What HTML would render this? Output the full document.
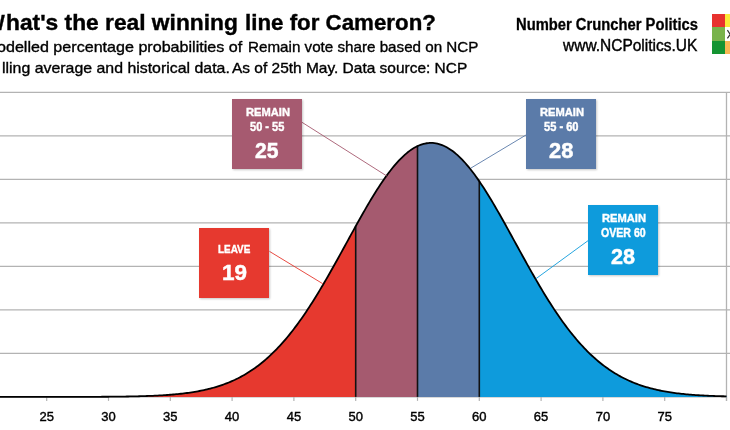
<!DOCTYPE html>
<html><head><meta charset="utf-8">
<style>
*{margin:0;padding:0;box-sizing:border-box}
html,body{width:730px;height:430px;overflow:hidden;background:#fff}
body{position:relative;font-family:"Liberation Sans",sans-serif;color:#111}
#wrap{position:absolute;left:0;top:0;width:730px;height:430px;filter:blur(0.4px)}
.t{position:absolute;white-space:nowrap;transform-origin:0 0}
.xl{position:absolute;top:410px;font-size:13px;line-height:13px;width:40px;margin-left:-20px;text-align:center;color:#000;-webkit-text-stroke:0.4px #000}
.box{position:absolute;width:70.3px;height:70.3px;box-shadow:1px 1px 2px rgba(0,0,0,0.22)}
</style></head><body><div id="wrap">
<svg width="730" height="430" style="position:absolute;left:0;top:0"><line x1="0" y1="92.30" x2="730" y2="92.30" stroke="#b3b3b3" stroke-width="1.3"/><line x1="0" y1="135.81" x2="730" y2="135.81" stroke="#b3b3b3" stroke-width="1.3"/><line x1="0" y1="179.33" x2="730" y2="179.33" stroke="#b3b3b3" stroke-width="1.3"/><line x1="0" y1="222.84" x2="730" y2="222.84" stroke="#b3b3b3" stroke-width="1.3"/><line x1="0" y1="266.36" x2="730" y2="266.36" stroke="#b3b3b3" stroke-width="1.3"/><line x1="0" y1="309.87" x2="730" y2="309.87" stroke="#b3b3b3" stroke-width="1.3"/><line x1="0" y1="353.39" x2="730" y2="353.39" stroke="#b3b3b3" stroke-width="1.3"/><line x1="726.5" y1="92.3" x2="726.5" y2="401" stroke="#b3b3b3" stroke-width="1.3"/><line x1="0" y1="396.90" x2="726.5" y2="396.90" stroke="#b3b3b3" stroke-width="1.3"/><line x1="46.70" y1="396.90" x2="46.70" y2="400.90" stroke="#b3b3b3" stroke-width="1.2"/><line x1="108.50" y1="396.90" x2="108.50" y2="400.90" stroke="#b3b3b3" stroke-width="1.2"/><line x1="170.30" y1="396.90" x2="170.30" y2="400.90" stroke="#b3b3b3" stroke-width="1.2"/><line x1="232.10" y1="396.90" x2="232.10" y2="400.90" stroke="#b3b3b3" stroke-width="1.2"/><line x1="293.90" y1="396.90" x2="293.90" y2="400.90" stroke="#b3b3b3" stroke-width="1.2"/><line x1="355.70" y1="396.90" x2="355.70" y2="400.90" stroke="#b3b3b3" stroke-width="1.2"/><line x1="417.50" y1="396.90" x2="417.50" y2="400.90" stroke="#b3b3b3" stroke-width="1.2"/><line x1="479.30" y1="396.90" x2="479.30" y2="400.90" stroke="#b3b3b3" stroke-width="1.2"/><line x1="541.10" y1="396.90" x2="541.10" y2="400.90" stroke="#b3b3b3" stroke-width="1.2"/><line x1="602.90" y1="396.90" x2="602.90" y2="400.90" stroke="#b3b3b3" stroke-width="1.2"/><line x1="664.70" y1="396.90" x2="664.70" y2="400.90" stroke="#b3b3b3" stroke-width="1.2"/><line x1="726.50" y1="396.90" x2="726.50" y2="400.90" stroke="#b3b3b3" stroke-width="1.2"/><path d="M-12.36,396.90 L-12.36,396.90 L-10.81,396.90 L-9.27,396.90 L-7.72,396.90 L-6.17,396.90 L-4.63,396.90 L-3.08,396.90 L-1.53,396.90 L0.01,396.90 L1.56,396.90 L3.10,396.90 L4.65,396.90 L6.20,396.90 L7.74,396.90 L9.29,396.90 L10.84,396.90 L12.38,396.90 L13.93,396.90 L15.48,396.90 L17.02,396.90 L18.57,396.90 L20.12,396.90 L21.66,396.90 L23.21,396.90 L24.76,396.90 L26.30,396.90 L27.85,396.90 L29.39,396.90 L30.94,396.90 L32.49,396.90 L34.03,396.90 L35.58,396.90 L37.13,396.90 L38.67,396.89 L40.22,396.89 L41.77,396.89 L43.31,396.89 L44.86,396.89 L46.41,396.89 L47.95,396.89 L49.50,396.89 L51.05,396.89 L52.59,396.89 L54.14,396.89 L55.68,396.89 L57.23,396.89 L58.78,396.88 L60.32,396.88 L61.87,396.88 L63.42,396.88 L64.96,396.88 L66.51,396.88 L68.06,396.88 L69.60,396.87 L71.15,396.87 L72.70,396.87 L74.24,396.87 L75.79,396.86 L77.34,396.86 L78.88,396.86 L80.43,396.85 L81.97,396.85 L83.52,396.85 L85.07,396.84 L86.61,396.84 L88.16,396.83 L89.71,396.83 L91.25,396.82 L92.80,396.82 L94.35,396.81 L95.89,396.80 L97.44,396.80 L98.99,396.79 L100.53,396.78 L102.08,396.77 L103.63,396.76 L105.17,396.75 L106.72,396.74 L108.26,396.73 L109.81,396.72 L111.36,396.70 L112.90,396.69 L114.45,396.68 L116.00,396.66 L117.54,396.64 L119.09,396.62 L120.64,396.60 L122.18,396.58 L123.73,396.56 L125.28,396.54 L126.82,396.51 L128.37,396.49 L129.92,396.46 L131.46,396.43 L133.01,396.40 L134.55,396.37 L136.10,396.33 L137.65,396.29 L139.19,396.25 L140.74,396.21 L142.29,396.17 L143.83,396.12 L145.38,396.07 L146.93,396.02 L148.47,395.96 L150.02,395.90 L151.57,395.84 L153.11,395.77 L154.66,395.70 L156.21,395.63 L157.75,395.55 L159.30,395.47 L160.84,395.38 L162.39,395.29 L163.94,395.19 L165.48,395.09 L167.03,394.99 L168.58,394.87 L170.12,394.75 L171.67,394.63 L173.22,394.50 L174.76,394.36 L176.31,394.22 L177.86,394.06 L179.40,393.90 L180.95,393.74 L182.50,393.56 L184.04,393.38 L185.59,393.18 L187.13,392.98 L188.68,392.77 L190.23,392.55 L191.77,392.31 L193.32,392.07 L194.87,391.82 L196.41,391.55 L197.96,391.27 L199.51,390.98 L201.05,390.68 L202.60,390.36 L204.15,390.03 L205.69,389.68 L207.24,389.32 L208.79,388.95 L210.33,388.55 L211.88,388.15 L213.42,387.72 L214.97,387.28 L216.52,386.82 L218.06,386.34 L219.61,385.84 L221.16,385.33 L222.70,384.79 L224.25,384.23 L225.80,383.65 L227.34,383.05 L228.89,382.43 L230.44,381.78 L231.98,381.11 L233.53,380.42 L235.08,379.70 L236.62,378.96 L238.17,378.19 L239.71,377.39 L241.26,376.57 L242.81,375.72 L244.35,374.84 L245.90,373.93 L247.45,372.99 L248.99,372.02 L250.54,371.03 L252.09,370.00 L253.63,368.94 L255.18,367.85 L256.73,366.72 L258.27,365.56 L259.82,364.37 L261.37,363.15 L262.91,361.89 L264.46,360.59 L266.00,359.26 L267.55,357.90 L269.10,356.50 L270.64,355.06 L272.19,353.59 L273.74,352.08 L275.28,350.53 L276.83,348.94 L278.38,347.32 L279.92,345.66 L281.47,343.96 L283.02,342.22 L284.56,340.45 L286.11,338.64 L287.66,336.79 L289.20,334.90 L290.75,332.97 L292.29,331.01 L293.84,329.00 L295.39,326.97 L296.93,324.89 L298.48,322.78 L300.03,320.63 L301.57,318.44 L303.12,316.22 L304.67,313.97 L306.21,311.68 L307.76,309.35 L309.31,306.99 L310.85,304.60 L312.40,302.18 L313.95,299.73 L315.49,297.25 L317.04,294.74 L318.58,292.20 L320.13,289.63 L321.68,287.04 L323.22,284.42 L324.77,281.78 L326.32,279.11 L327.86,276.43 L329.41,273.72 L330.96,271.00 L332.50,268.26 L334.05,265.50 L335.60,262.73 L337.14,259.95 L338.69,257.15 L340.24,254.35 L341.78,251.54 L343.33,248.72 L344.87,245.90 L346.42,243.08 L347.97,240.26 L349.51,237.44 L351.06,234.62 L352.61,231.81 L354.15,229.01 L355.70,226.22 L355.70,396.90 Z" fill="#e6392f"/><path d="M355.70,396.90 L355.70,226.22 L357.25,223.44 L358.79,220.67 L360.33,217.92 L361.88,215.19 L363.43,212.48 L364.97,209.79 L366.51,207.13 L368.06,204.49 L369.61,201.88 L371.15,199.30 L372.69,196.75 L374.24,194.24 L375.78,191.77 L377.33,189.33 L378.88,186.94 L380.42,184.59 L381.96,182.29 L383.51,180.03 L385.06,177.83 L386.60,175.67 L388.14,173.57 L389.69,171.53 L391.24,169.54 L392.78,167.61 L394.32,165.74 L395.87,163.94 L397.41,162.20 L398.96,160.52 L400.50,158.92 L402.05,157.38 L403.59,155.91 L405.14,154.52 L406.69,153.20 L408.23,151.95 L409.77,150.78 L411.32,149.69 L412.87,148.68 L414.41,147.74 L415.95,146.89 L417.50,146.11 L417.50,396.90 Z" fill="#a55a6f"/><path d="M417.50,396.90 L417.50,146.11 L419.05,145.42 L420.59,144.81 L422.13,144.29 L423.68,143.85 L425.23,143.49 L426.77,143.21 L428.31,143.03 L429.86,142.92 L431.40,142.90 L432.95,142.97 L434.50,143.12 L436.04,143.36 L437.58,143.68 L439.13,144.08 L440.68,144.57 L442.22,145.14 L443.76,145.80 L445.31,146.54 L446.86,147.36 L448.40,148.26 L449.94,149.23 L451.49,150.29 L453.03,151.43 L454.58,152.64 L456.12,153.93 L457.67,155.29 L459.22,156.72 L460.76,158.23 L462.31,159.81 L463.85,161.45 L465.39,163.16 L466.94,164.94 L468.49,166.78 L470.03,168.68 L471.57,170.64 L473.12,172.66 L474.67,174.74 L476.21,176.87 L477.75,179.06 L479.30,181.29 L479.30,396.90 Z" fill="#5b7ba9"/><path d="M479.30,396.90 L479.30,181.29 L480.85,183.57 L482.39,185.90 L483.94,188.28 L485.48,190.69 L487.02,193.15 L488.57,195.64 L490.12,198.17 L491.66,200.74 L493.21,203.34 L494.75,205.96 L496.30,208.61 L497.84,211.29 L499.38,214.00 L500.93,216.72 L502.48,219.46 L504.02,222.22 L505.56,224.99 L507.11,227.78 L508.65,230.57 L510.20,233.38 L511.75,236.19 L513.29,239.01 L514.84,241.83 L516.38,244.65 L517.92,247.46 L519.47,250.28 L521.01,253.09 L522.56,255.89 L524.11,258.69 L525.65,261.47 L527.19,264.25 L528.74,267.01 L530.28,269.75 L531.83,272.48 L533.38,275.19 L534.92,277.89 L536.47,280.56 L538.01,283.21 L539.56,285.83 L541.10,288.44 L542.64,291.01 L544.19,293.56 L545.74,296.08 L547.28,298.58 L548.83,301.04 L550.37,303.48 L551.91,305.88 L553.46,308.25 L555.00,310.59 L556.55,312.89 L558.10,315.16 L559.64,317.40 L561.18,319.60 L562.73,321.76 L564.27,323.89 L565.82,325.98 L567.37,328.04 L568.91,330.05 L570.46,332.03 L572.00,333.98 L573.55,335.88 L575.09,337.75 L576.63,339.58 L578.18,341.37 L579.73,343.12 L581.27,344.84 L582.82,346.51 L584.36,348.15 L585.90,349.76 L587.45,351.32 L589.00,352.85 L590.54,354.34 L592.09,355.79 L593.63,357.21 L595.17,358.59 L596.72,359.94 L598.26,361.25 L599.81,362.52 L601.36,363.77 L602.90,364.97 L604.45,366.15 L605.99,367.29 L607.54,368.39 L609.08,369.47 L610.62,370.51 L612.17,371.52 L613.72,372.51 L615.26,373.46 L616.81,374.38 L618.35,375.27 L619.89,376.14 L621.44,376.97 L622.99,377.78 L624.53,378.57 L626.08,379.32 L627.62,380.05 L629.16,380.76 L630.71,381.44 L632.25,382.10 L633.80,382.73 L635.35,383.34 L636.89,383.93 L638.43,384.50 L639.98,385.05 L641.53,385.58 L643.07,386.08 L644.62,386.57 L646.16,387.04 L647.71,387.49 L649.25,387.92 L650.80,388.34 L652.34,388.74 L653.88,389.12 L655.43,389.49 L656.98,389.84 L658.52,390.18 L660.07,390.51 L661.61,390.82 L663.15,391.12 L664.70,391.40 L666.25,391.67 L667.79,391.93 L669.34,392.18 L670.88,392.42 L672.42,392.65 L673.97,392.87 L675.52,393.07 L677.06,393.27 L678.61,393.46 L680.15,393.64 L681.69,393.81 L683.24,393.98 L684.79,394.13 L686.33,394.28 L687.88,394.42 L689.42,394.56 L690.97,394.69 L692.51,394.81 L694.06,394.92 L695.60,395.03 L697.14,395.14 L698.69,395.24 L700.24,395.33 L701.78,395.42 L703.33,395.50 L704.87,395.58 L706.41,395.66 L707.96,395.73 L709.50,395.80 L711.05,395.87 L712.60,395.93 L714.14,395.98 L715.68,396.04 L717.23,396.09 L718.78,396.14 L720.32,396.19 L721.87,396.23 L723.41,396.27 L724.96,396.31 L726.50,396.35 L726.50,396.90 Z" fill="#0e9bdc"/><line x1="355.70" y1="226.22" x2="355.70" y2="396.90" stroke="#111" stroke-width="1.6"/><line x1="417.50" y1="146.11" x2="417.50" y2="396.90" stroke="#111" stroke-width="1.6"/><line x1="479.30" y1="181.29" x2="479.30" y2="396.90" stroke="#111" stroke-width="1.6"/><path d="M-12.36,396.90 L-10.81,396.90 L-9.27,396.90 L-7.72,396.90 L-6.18,396.90 L-4.63,396.90 L-3.09,396.90 L-1.54,396.90 L0.01,396.90 L1.55,396.90 L3.10,396.90 L4.64,396.90 L6.19,396.90 L7.73,396.90 L9.28,396.90 L10.83,396.90 L12.37,396.90 L13.92,396.90 L15.46,396.90 L17.01,396.90 L18.55,396.90 L20.10,396.90 L21.65,396.90 L23.19,396.90 L24.74,396.90 L26.28,396.90 L27.83,396.90 L29.37,396.90 L30.92,396.90 L32.47,396.90 L34.01,396.90 L35.56,396.90 L37.10,396.90 L38.65,396.89 L40.19,396.89 L41.74,396.89 L43.29,396.89 L44.83,396.89 L46.38,396.89 L47.92,396.89 L49.47,396.89 L51.02,396.89 L52.56,396.89 L54.11,396.89 L55.65,396.89 L57.20,396.89 L58.74,396.88 L60.29,396.88 L61.84,396.88 L63.38,396.88 L64.93,396.88 L66.47,396.88 L68.02,396.88 L69.56,396.87 L71.11,396.87 L72.66,396.87 L74.20,396.87 L75.75,396.86 L77.29,396.86 L78.84,396.86 L80.38,396.85 L81.93,396.85 L83.48,396.85 L85.02,396.84 L86.57,396.84 L88.11,396.83 L89.66,396.83 L91.20,396.82 L92.75,396.82 L94.30,396.81 L95.84,396.80 L97.39,396.80 L98.93,396.79 L100.48,396.78 L102.02,396.77 L103.57,396.76 L105.12,396.75 L106.66,396.74 L108.21,396.73 L109.75,396.72 L111.30,396.70 L112.84,396.69 L114.39,396.68 L115.94,396.66 L117.48,396.64 L119.03,396.62 L120.57,396.61 L122.12,396.59 L123.66,396.56 L125.21,396.54 L126.76,396.52 L128.30,396.49 L129.85,396.46 L131.39,396.43 L132.94,396.40 L134.48,396.37 L136.03,396.33 L137.58,396.29 L139.12,396.26 L140.67,396.21 L142.21,396.17 L143.76,396.12 L145.30,396.07 L146.85,396.02 L148.40,395.96 L149.94,395.90 L151.49,395.84 L153.03,395.78 L154.58,395.71 L156.12,395.63 L157.67,395.55 L159.22,395.47 L160.76,395.39 L162.31,395.30 L163.85,395.20 L165.40,395.10 L166.94,394.99 L168.49,394.88 L170.04,394.76 L171.58,394.64 L173.13,394.51 L174.67,394.37 L176.22,394.22 L177.77,394.07 L179.31,393.91 L180.86,393.75 L182.40,393.57 L183.95,393.39 L185.49,393.20 L187.04,392.99 L188.59,392.78 L190.13,392.56 L191.68,392.33 L193.22,392.09 L194.77,391.83 L196.31,391.57 L197.86,391.29 L199.41,391.00 L200.95,390.70 L202.50,390.38 L204.04,390.05 L205.59,389.71 L207.13,389.35 L208.68,388.97 L210.23,388.58 L211.77,388.18 L213.32,387.75 L214.86,387.31 L216.41,386.85 L217.95,386.38 L219.50,385.88 L221.05,385.36 L222.59,384.83 L224.14,384.27 L225.68,383.70 L227.23,383.10 L228.77,382.48 L230.32,381.83 L231.87,381.16 L233.41,380.47 L234.96,379.76 L236.50,379.01 L238.05,378.25 L239.59,377.45 L241.14,376.63 L242.69,375.78 L244.23,374.91 L245.78,374.00 L247.32,373.07 L248.87,372.10 L250.41,371.11 L251.96,370.08 L253.51,369.03 L255.05,367.94 L256.60,366.82 L258.14,365.66 L259.69,364.47 L261.23,363.25 L262.78,362.00 L264.33,360.71 L265.87,359.38 L267.42,358.02 L268.96,356.62 L270.51,355.19 L272.05,353.72 L273.60,352.21 L275.15,350.67 L276.69,349.08 L278.24,347.47 L279.78,345.81 L281.33,344.12 L282.87,342.38 L284.42,340.61 L285.97,338.80 L287.51,336.96 L289.06,335.07 L290.60,333.15 L292.15,331.19 L293.69,329.20 L295.24,327.16 L296.79,325.09 L298.33,322.98 L299.88,320.84 L301.42,318.66 L302.97,316.44 L304.52,314.19 L306.06,311.90 L307.61,309.58 L309.15,307.23 L310.70,304.84 L312.24,302.43 L313.79,299.98 L315.34,297.50 L316.88,294.99 L318.43,292.46 L319.97,289.89 L321.52,287.30 L323.06,284.69 L324.61,282.05 L326.16,279.39 L327.70,276.71 L329.25,274.01 L330.79,271.29 L332.34,268.55 L333.88,265.80 L335.43,263.03 L336.98,260.25 L338.52,257.46 L340.07,254.66 L341.61,251.85 L343.16,249.03 L344.70,246.22 L346.25,243.40 L347.80,240.57 L349.34,237.76 L350.89,234.94 L352.43,232.13 L353.98,229.33 L355.52,226.53 L357.07,223.75 L358.62,220.98 L360.16,218.23 L361.71,215.50 L363.25,212.78 L364.80,210.09 L366.34,207.42 L367.89,204.78 L369.44,202.16 L370.98,199.58 L372.53,197.03 L374.07,194.51 L375.62,192.03 L377.16,189.59 L378.71,187.19 L380.26,184.84 L381.80,182.53 L383.35,180.27 L384.89,178.06 L386.44,175.89 L387.98,173.79 L389.53,171.73 L391.08,169.74 L392.62,167.80 L394.17,165.93 L395.71,164.12 L397.26,162.37 L398.80,160.69 L400.35,159.07 L401.90,157.53 L403.44,156.05 L404.99,154.65 L406.53,153.32 L408.08,152.07 L409.62,150.89 L411.17,149.79 L412.72,148.77 L414.26,147.83 L415.81,146.97 L417.35,146.18 L418.90,145.48 L420.45,144.87 L421.99,144.33 L423.54,143.88 L425.08,143.52 L426.63,143.24 L428.17,143.04 L429.72,142.93 L431.27,142.90 L432.81,142.96 L434.36,143.10 L435.90,143.33 L437.45,143.65 L438.99,144.04 L440.54,144.53 L442.09,145.09 L443.63,145.74 L445.18,146.47 L446.72,147.28 L448.27,148.18 L449.81,149.15 L451.36,150.20 L452.91,151.33 L454.45,152.54 L456.00,153.82 L457.54,155.17 L459.09,156.60 L460.63,158.10 L462.18,159.68 L463.73,161.32 L465.27,163.02 L466.82,164.80 L468.36,166.63 L469.91,168.53 L471.45,170.49 L473.00,172.50 L474.55,174.58 L476.09,176.71 L477.64,178.89 L479.18,181.12 L480.73,183.40 L482.27,185.73 L483.82,188.10 L485.37,190.51 L486.91,192.97 L488.46,195.46 L490.00,197.99 L491.55,200.55 L493.09,203.15 L494.64,205.77 L496.19,208.43 L497.73,211.10 L499.28,213.81 L500.82,216.53 L502.37,219.27 L503.91,222.03 L505.46,224.80 L507.01,227.59 L508.55,230.39 L510.10,233.19 L511.64,236.01 L513.19,238.82 L514.73,241.64 L516.28,244.46 L517.83,247.28 L519.37,250.10 L520.92,252.91 L522.46,255.72 L524.01,258.52 L525.55,261.30 L527.10,264.08 L528.65,266.84 L530.19,269.59 L531.74,272.32 L533.28,275.03 L534.83,277.73 L536.37,280.40 L537.92,283.05 L539.47,285.68 L541.01,288.29 L542.56,290.87 L544.10,293.42 L545.65,295.95 L547.20,298.44 L548.74,300.91 L550.29,303.35 L551.83,305.75 L553.38,308.12 L554.92,310.46 L556.47,312.77 L558.02,315.04 L559.56,317.28 L561.11,319.49 L562.65,321.65 L564.20,323.78 L565.74,325.88 L567.29,327.94 L568.84,329.96 L570.38,331.94 L571.93,333.88 L573.47,335.79 L575.02,337.66 L576.56,339.49 L578.11,341.29 L579.66,343.04 L581.20,344.76 L582.75,346.44 L584.29,348.08 L585.84,349.69 L587.38,351.26 L588.93,352.79 L590.48,354.28 L592.02,355.73 L593.57,357.15 L595.11,358.54 L596.66,359.89 L598.20,361.20 L599.75,362.48 L601.30,363.72 L602.84,364.93 L604.39,366.10 L605.93,367.24 L607.48,368.35 L609.02,369.43 L610.57,370.48 L612.12,371.49 L613.66,372.47 L615.21,373.43 L616.75,374.35 L618.30,375.24 L619.84,376.11 L621.39,376.95 L622.94,377.76 L624.48,378.54 L626.03,379.30 L627.57,380.03 L629.12,380.74 L630.66,381.42 L632.21,382.08 L633.76,382.71 L635.30,383.33 L636.85,383.92 L638.39,384.49 L639.94,385.03 L641.48,385.56 L643.03,386.07 L644.58,386.56 L646.12,387.03 L647.67,387.48 L649.21,387.91 L650.76,388.33 L652.30,388.73 L653.85,389.12 L655.40,389.48 L656.94,389.84 L658.49,390.18 L660.03,390.50 L661.58,390.81 L663.12,391.11 L664.67,391.40 L666.22,391.67 L667.76,391.93 L669.31,392.18 L670.85,392.42 L672.40,392.65 L673.95,392.86 L675.49,393.07 L677.04,393.27 L678.58,393.46 L680.13,393.64 L681.67,393.81 L683.22,393.98 L684.77,394.13 L686.31,394.28 L687.86,394.42 L689.40,394.56 L690.95,394.68 L692.49,394.81 L694.04,394.92 L695.59,395.03 L697.13,395.14 L698.68,395.24 L700.22,395.33 L701.77,395.42 L703.31,395.50 L704.86,395.58 L706.41,395.66 L707.95,395.73 L709.50,395.80 L711.04,395.87 L712.59,395.93 L714.13,395.98 L715.68,396.04 L717.23,396.09 L718.77,396.14 L720.32,396.19 L721.86,396.23 L723.41,396.27 L724.95,396.31 L726.50,396.35" fill="none" stroke="#000" stroke-width="1.8"/><line x1="302.0" y1="122.3" x2="386.8" y2="176.0" stroke="#a55a6f" stroke-width="1" stroke-opacity="0.9"/><line x1="526.0" y1="135.0" x2="471.0" y2="168.0" stroke="#5b7ba9" stroke-width="1" stroke-opacity="0.9"/><line x1="269.5" y1="251.4" x2="322.9" y2="283.8" stroke="#e6392f" stroke-width="1" stroke-opacity="0.9"/><line x1="588.0" y1="240.7" x2="535.8" y2="278.8" stroke="#0e9bdc" stroke-width="1" stroke-opacity="0.9"/></svg>
<div style="position:absolute;left:712px;top:14.3px;width:13px;height:13px;background:#e8322e"></div>
<div style="position:absolute;left:712px;top:27.3px;width:13px;height:13.6px;background:#79b34b"></div>
<div style="position:absolute;left:712px;top:40.9px;width:13px;height:13.1px;background:#149432"></div>
<div style="position:absolute;left:725px;top:14.3px;width:5px;height:13px;background:#fbe93a"></div>
<div style="position:absolute;left:725px;top:27.3px;width:5px;height:13.6px;background:#fff"></div>
<div style="position:absolute;left:725px;top:40.9px;width:5px;height:13.1px;background:#f8b855"></div>
<svg style="position:absolute;left:725px;top:27px" width="5" height="14"><path d="M2.4,3.2 L5.2,7.3 L2.4,11.4" fill="none" stroke="#333" stroke-width="1.2"/></svg>
<div class="xl" style="left:46.70px">25</div><div class="xl" style="left:108.50px">30</div><div class="xl" style="left:170.30px">35</div><div class="xl" style="left:232.10px">40</div><div class="xl" style="left:293.90px">45</div><div class="xl" style="left:355.70px">50</div><div class="xl" style="left:417.50px">55</div><div class="xl" style="left:479.30px">60</div><div class="xl" style="left:541.10px">65</div><div class="xl" style="left:602.90px">70</div><div class="xl" style="left:664.70px">75</div>
<div class="box" style="left:232px;top:99px;background:#a65a70"></div>
<div class="box" style="left:526px;top:99px;background:#5b7ba9"></div>
<div class="box" style="left:199.2px;top:228.2px;background:#e6392f"></div>
<div class="box" style="left:588px;top:205px;background:#0e9bdc"></div>
<div class="t" style="left:-14.00px;top:11.65px;font-size:22.5px;line-height:22.5px;font-weight:bold;color:#000;transform:scaleX(0.8818);-webkit-text-stroke:0.4px #000">W</div>
<div class="t" style="left:5.59px;top:11.65px;font-size:22.5px;line-height:22.5px;font-weight:bold;color:#000;transform:scaleX(1.0118);-webkit-text-stroke:0.4px #000">hat's the real winning</div>
<div class="t" style="left:244.51px;top:11.65px;font-size:22.5px;line-height:22.5px;font-weight:bold;color:#000;transform:scaleX(0.9916);-webkit-text-stroke:0.4px #000">line for Cameron?</div>
<div class="t" style="left:-16.00px;top:38.50px;font-size:15px;line-height:15px;font-weight:normal;color:#000;transform:scaleX(0.9583);-webkit-text-stroke:0.35px #000">M</div>
<div class="t" style="left:-3.30px;top:38.50px;font-size:15px;line-height:15px;font-weight:normal;color:#000;transform:scaleX(1.0729);-webkit-text-stroke:0.35px #000">odelled percentage probabilities of</div>
<div class="t" style="left:248.10px;top:38.50px;font-size:15px;line-height:15px;font-weight:normal;color:#000;transform:scaleX(1.0123);-webkit-text-stroke:0.35px #000">Remain vote share based on NCP</div>
<div class="t" style="left:-18.00px;top:59.70px;font-size:15px;line-height:15px;font-weight:normal;color:#000;transform:scaleX(1.0000);-webkit-text-stroke:0.35px #000">po</div>
<div class="t" style="left:1.60px;top:59.70px;font-size:15px;line-height:15px;font-weight:normal;color:#000;transform:scaleX(1.0589);-webkit-text-stroke:0.35px #000">lling average and historical data.</div>
<div class="t" style="left:231.90px;top:59.70px;font-size:15px;line-height:15px;font-weight:normal;color:#000;transform:scaleX(1.0311);-webkit-text-stroke:0.35px #000">As of 25th May. Data source: NCP</div>
<div class="t" style="left:515.70px;top:17.46px;font-size:16px;line-height:16px;font-weight:bold;color:#000;transform:scaleX(0.9223);-webkit-text-stroke:0.3px #000">Number Cruncher Politics</div>
<div class="t" style="left:562.80px;top:37.56px;font-size:16px;line-height:16px;font-weight:normal;color:#000;transform:scaleX(0.9683);-webkit-text-stroke:0.4px #000">www.NCPolitics.UK</div>
<div class="t" style="left:245.50px;top:107.07px;font-size:11.5px;line-height:11.5px;font-weight:bold;color:#fff;transform:scaleX(0.9689);-webkit-text-stroke:0.4px #fff">REMAIN</div>
<div class="t" style="left:249.80px;top:120.64px;font-size:12px;line-height:12px;font-weight:bold;color:#fff;transform:scaleX(0.9184);-webkit-text-stroke:0.4px #fff">50 - 55</div>
<div class="t" style="left:255.00px;top:140.48px;font-size:22px;line-height:22px;font-weight:bold;color:#fff;transform:scaleX(0.9600);-webkit-text-stroke:0.5px #fff">25</div>
<div class="t" style="left:540.00px;top:107.07px;font-size:11.5px;line-height:11.5px;font-weight:bold;color:#fff;transform:scaleX(0.9689);-webkit-text-stroke:0.4px #fff">REMAIN</div>
<div class="t" style="left:544.10px;top:120.64px;font-size:12px;line-height:12px;font-weight:bold;color:#fff;transform:scaleX(0.9237);-webkit-text-stroke:0.4px #fff">55 - 60</div>
<div class="t" style="left:549.00px;top:140.48px;font-size:22px;line-height:22px;font-weight:bold;color:#fff;transform:scaleX(0.9920);-webkit-text-stroke:0.5px #fff">28</div>
<div class="t" style="left:602.00px;top:213.07px;font-size:11.5px;line-height:11.5px;font-weight:bold;color:#fff;transform:scaleX(0.9689);-webkit-text-stroke:0.4px #fff">REMAIN</div>
<div class="t" style="left:601.20px;top:226.64px;font-size:12px;line-height:12px;font-weight:bold;color:#fff;transform:scaleX(0.8804);-webkit-text-stroke:0.4px #fff">OVER 60</div>
<div class="t" style="left:611.30px;top:246.48px;font-size:22px;line-height:22px;font-weight:bold;color:#fff;transform:scaleX(0.9800);-webkit-text-stroke:0.5px #fff">28</div>
<div class="t" style="left:218.40px;top:243.67px;font-size:11.5px;line-height:11.5px;font-weight:bold;color:#fff;transform:scaleX(0.8632);-webkit-text-stroke:0.4px #fff">LEAVE</div>
<div class="t" style="left:222.28px;top:262.48px;font-size:22px;line-height:22px;font-weight:bold;color:#fff;transform:scaleX(1.0217);-webkit-text-stroke:0.5px #fff">19</div>

</div></body></html>
